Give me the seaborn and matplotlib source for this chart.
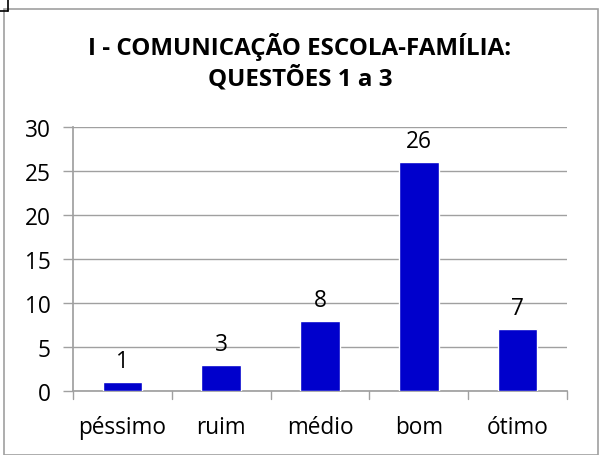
import matplotlib
matplotlib.use("Agg")
import matplotlib.pyplot as plt
import seaborn as sns
import pandas as pd
from matplotlib.patches import Rectangle
from matplotlib.lines import Line2D

categories = ["péssimo", "ruim", "médio", "bom", "ótimo"]
values = [1, 3, 8, 26, 7]
yticks = [0, 5, 10, 15, 20, 25, 30]
title = "I - COMUNICAÇÃO ESCOLA-FAMÍLIA:\nQUESTÕES 1 a 3"

sns.set_theme(style="white")
plt.rcParams['font.family'] = ['Open Sans', 'DejaVu Sans']

df = pd.DataFrame({"cat": categories, "val": values})

fig = plt.figure(figsize=(6, 4.56), dpi=100)
W, H = 600, 456
ax = fig.add_axes([73 / W, (H - 392) / H, (567 - 73) / W, (392 - 128) / H])

sns.barplot(data=df, x="cat", y="val", color="#0000CC", width=0.4,
            saturation=1, ax=ax, zorder=3)

fs = 16.3
ax.set_ylim(0, 30)
ax.set_xlim(-0.5, 4.5)
ax.set_yticks(yticks)
ax.set_yticklabels([str(t) for t in yticks], fontsize=fs, color="black")
ax.set_xlabel("")
ax.set_ylabel("")
ax.tick_params(axis="x", labelsize=fs, length=0, pad=17, labelcolor="black")
ax.tick_params(axis="y", length=7, width=1, color="#A0A0A0", pad=9, left=True)
ax.grid(axis="y", color="#A0A0A0", linewidth=1, zorder=0)
for s in ["top", "right"]:
    ax.spines[s].set_visible(False)
ax.spines["left"].set_color("#A0A0A0")
ax.spines["bottom"].set_color("#A0A0A0")
ax.spines["left"].set_zorder(4)

# category separators on x axis
for xb in [-0.5, 0.5, 1.5, 2.5, 3.5, 4.5]:
    ax.plot([xb, xb], [0, -0.9], color="#A0A0A0", lw=1, clip_on=False, zorder=4)

for c in ax.containers:
    ax.bar_label(c, labels=[str(v) for v in values], fontsize=fs,
                 padding=6.5, color="black")

fig.text(0.5, (H - 62.5) / H, title, ha="center", va="center",
         fontsize=17.4, fontweight="bold", linespacing=1.28, color="black")

# outer chart border
fig.add_artist(Rectangle((4 / W, 0.5 / H), (598 - 4) / W, (H - 10.5) / H,
                         transform=fig.transFigure, fill=False,
                         edgecolor="#A0A0A0", lw=1.2))
# table cell lines at top-left
fig.add_artist(Line2D([8 / W, 8 / W], [1, (H - 12) / H], transform=fig.transFigure,
                      color="black", lw=1.2))
fig.add_artist(Line2D([0, 8 / W], [(H - 12) / H, (H - 12) / H],
                      transform=fig.transFigure, color="black", lw=1.2))

fig.savefig("out.png", dpi=100)
